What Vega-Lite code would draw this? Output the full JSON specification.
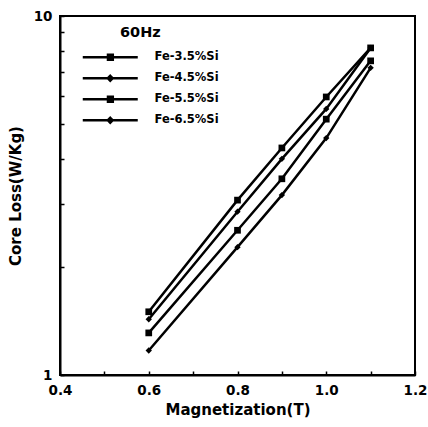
{
  "$schema": "https://vega.github.io/schema/vega-lite/v6.json",
  "width": 355,
  "height": 359,
  "autosize": {"type": "none"},
  "padding": {"left": 60, "top": 16, "right": 13, "bottom": 52},
  "background": "white",
  "config": {
    "view": {"stroke": "black", "strokeWidth": 2},
    "font": "DejaVu Sans",
    "axis": {
      "grid": false,
      "domainColor": "black",
      "domainWidth": 2,
      "tickColor": "black",
      "tickWidth": 1.5,
      "labelColor": "black",
      "titleColor": "black",
      "labelFont": "DejaVu Sans",
      "titleFont": "DejaVu Sans",
      "labelFontWeight": "bold",
      "titleFontWeight": "bold",
      "labelFontSize": 13.5,
      "titleFontSize": 15
    }
  },
  "data": {
    "values": [
      {"series": "Fe-3.5%Si", "B": 0.6, "loss": 1.50},
      {"series": "Fe-3.5%Si", "B": 0.8, "loss": 3.07},
      {"series": "Fe-3.5%Si", "B": 0.9, "loss": 4.29},
      {"series": "Fe-3.5%Si", "B": 1.0, "loss": 5.95},
      {"series": "Fe-3.5%Si", "B": 1.1, "loss": 8.15},
      {"series": "Fe-4.5%Si", "B": 0.6, "loss": 1.43},
      {"series": "Fe-4.5%Si", "B": 0.8, "loss": 2.85},
      {"series": "Fe-4.5%Si", "B": 0.9, "loss": 4.00},
      {"series": "Fe-4.5%Si", "B": 1.0, "loss": 5.51},
      {"series": "Fe-4.5%Si", "B": 1.1, "loss": 8.15},
      {"series": "Fe-5.5%Si", "B": 0.6, "loss": 1.31},
      {"series": "Fe-5.5%Si", "B": 0.8, "loss": 2.53},
      {"series": "Fe-5.5%Si", "B": 0.9, "loss": 3.52},
      {"series": "Fe-5.5%Si", "B": 1.0, "loss": 5.16},
      {"series": "Fe-5.5%Si", "B": 1.1, "loss": 7.50},
      {"series": "Fe-6.5%Si", "B": 0.6, "loss": 1.17},
      {"series": "Fe-6.5%Si", "B": 0.8, "loss": 2.27},
      {"series": "Fe-6.5%Si", "B": 0.9, "loss": 3.17},
      {"series": "Fe-6.5%Si", "B": 1.0, "loss": 4.57},
      {"series": "Fe-6.5%Si", "B": 1.1, "loss": 7.17}
    ]
  },
  "encoding": {
    "x": {
      "field": "B",
      "type": "quantitative",
      "scale": {"domain": [0.4, 1.2], "nice": false, "zero": false},
      "axis": {
        "title": "Magnetization(T)",
        "values": [0.4, 0.5, 0.6, 0.7, 0.8, 0.9, 1.0, 1.1, 1.2],
        "labelExpr": "indexof(['0.4','0.6','0.8','1.0','1.2'], format(datum.value,'.1f')) >= 0 ? format(datum.value,'.1f') : ''",
        "tickSize": -4,
        "labelPadding": 12,
        "titlePadding": 6,
        "labelFlush": false,
        "labelOverlap": false
      }
    },
    "y": {
      "field": "loss",
      "type": "quantitative",
      "scale": {"type": "log", "domain": [1, 10], "nice": false},
      "axis": {
        "title": "Core Loss(W/Kg)",
        "values": [1, 2, 3, 4, 5, 6, 7, 8, 9, 10],
        "labelExpr": "datum.value == 1 || datum.value == 10 ? format(datum.value, 'd') : ''",
        "tickSize": -4,
        "labelPadding": 12,
        "titlePadding": 10,
        "labelOverlap": false
      }
    }
  },
  "layer": [
    {
      "mark": {"type": "line", "color": "black", "strokeWidth": 2.5},
      "encoding": {"detail": {"field": "series", "type": "nominal"}}
    },
    {
      "transform": [{"filter": "datum.series == 'Fe-3.5%Si' || datum.series == 'Fe-5.5%Si'"}],
      "mark": {"type": "point", "shape": "square", "filled": true, "color": "black", "opacity": 1, "size": 45}
    },
    {
      "transform": [{"filter": "datum.series == 'Fe-4.5%Si' || datum.series == 'Fe-6.5%Si'"}],
      "mark": {"type": "point", "shape": "diamond", "filled": true, "color": "black", "opacity": 1, "size": 40}
    },
    {
      "transform": [{"filter": "false"}],
      "mark": {"type": "point", "filled": true, "color": "black", "opacity": 1},
      "encoding": {
        "shape": {
          "field": "series",
          "type": "nominal",
          "scale": {
            "domain": ["Fe-3.5%Si", "Fe-4.5%Si", "Fe-5.5%Si", "Fe-6.5%Si"],
            "range": [
              "M-14.33,0H4M-5.92,-0.8H-4.32V0.8H-5.92Z",
              "M-14.33,0H4M-5.17,-0.8L-4.37,0L-5.17,0.8L-5.97,0Z",
              "M-14.33,0H4M-5.92,-0.8H-4.32V0.8H-5.92Z",
              "M-14.33,0H4M-5.17,-0.8L-4.37,0L-5.17,0.8L-5.97,0Z"
            ]
          },
          "legend": {
            "title": "60Hz",
            "orient": "none",
            "legendX": 60,
            "legendY": 10,
            "padding": 0,
            "titleFont": "DejaVu Sans",
            "titleFontSize": 14.5,
            "titleFontWeight": "bold",
            "titleColor": "black",
            "titlePadding": 11,
            "labelFont": "DejaVu Sans",
            "labelFontSize": 11.5,
            "labelFontWeight": "bold",
            "labelColor": "black",
            "labelOffset": 23,
            "symbolSize": 36,
            "symbolStrokeWidth": 2.5,
            "symbolStrokeColor": "black",
            "symbolFillColor": "black",
            "symbolOpacity": 1,
            "rowPadding": 5,
            "encoding": {
              "symbols": {
                "stroke": {"value": "black"},
                "strokeWidth": {"value": 2.5},
                "fill": {"value": "black"}
              }
            }
          }
        }
      }
    }
  ]
}
